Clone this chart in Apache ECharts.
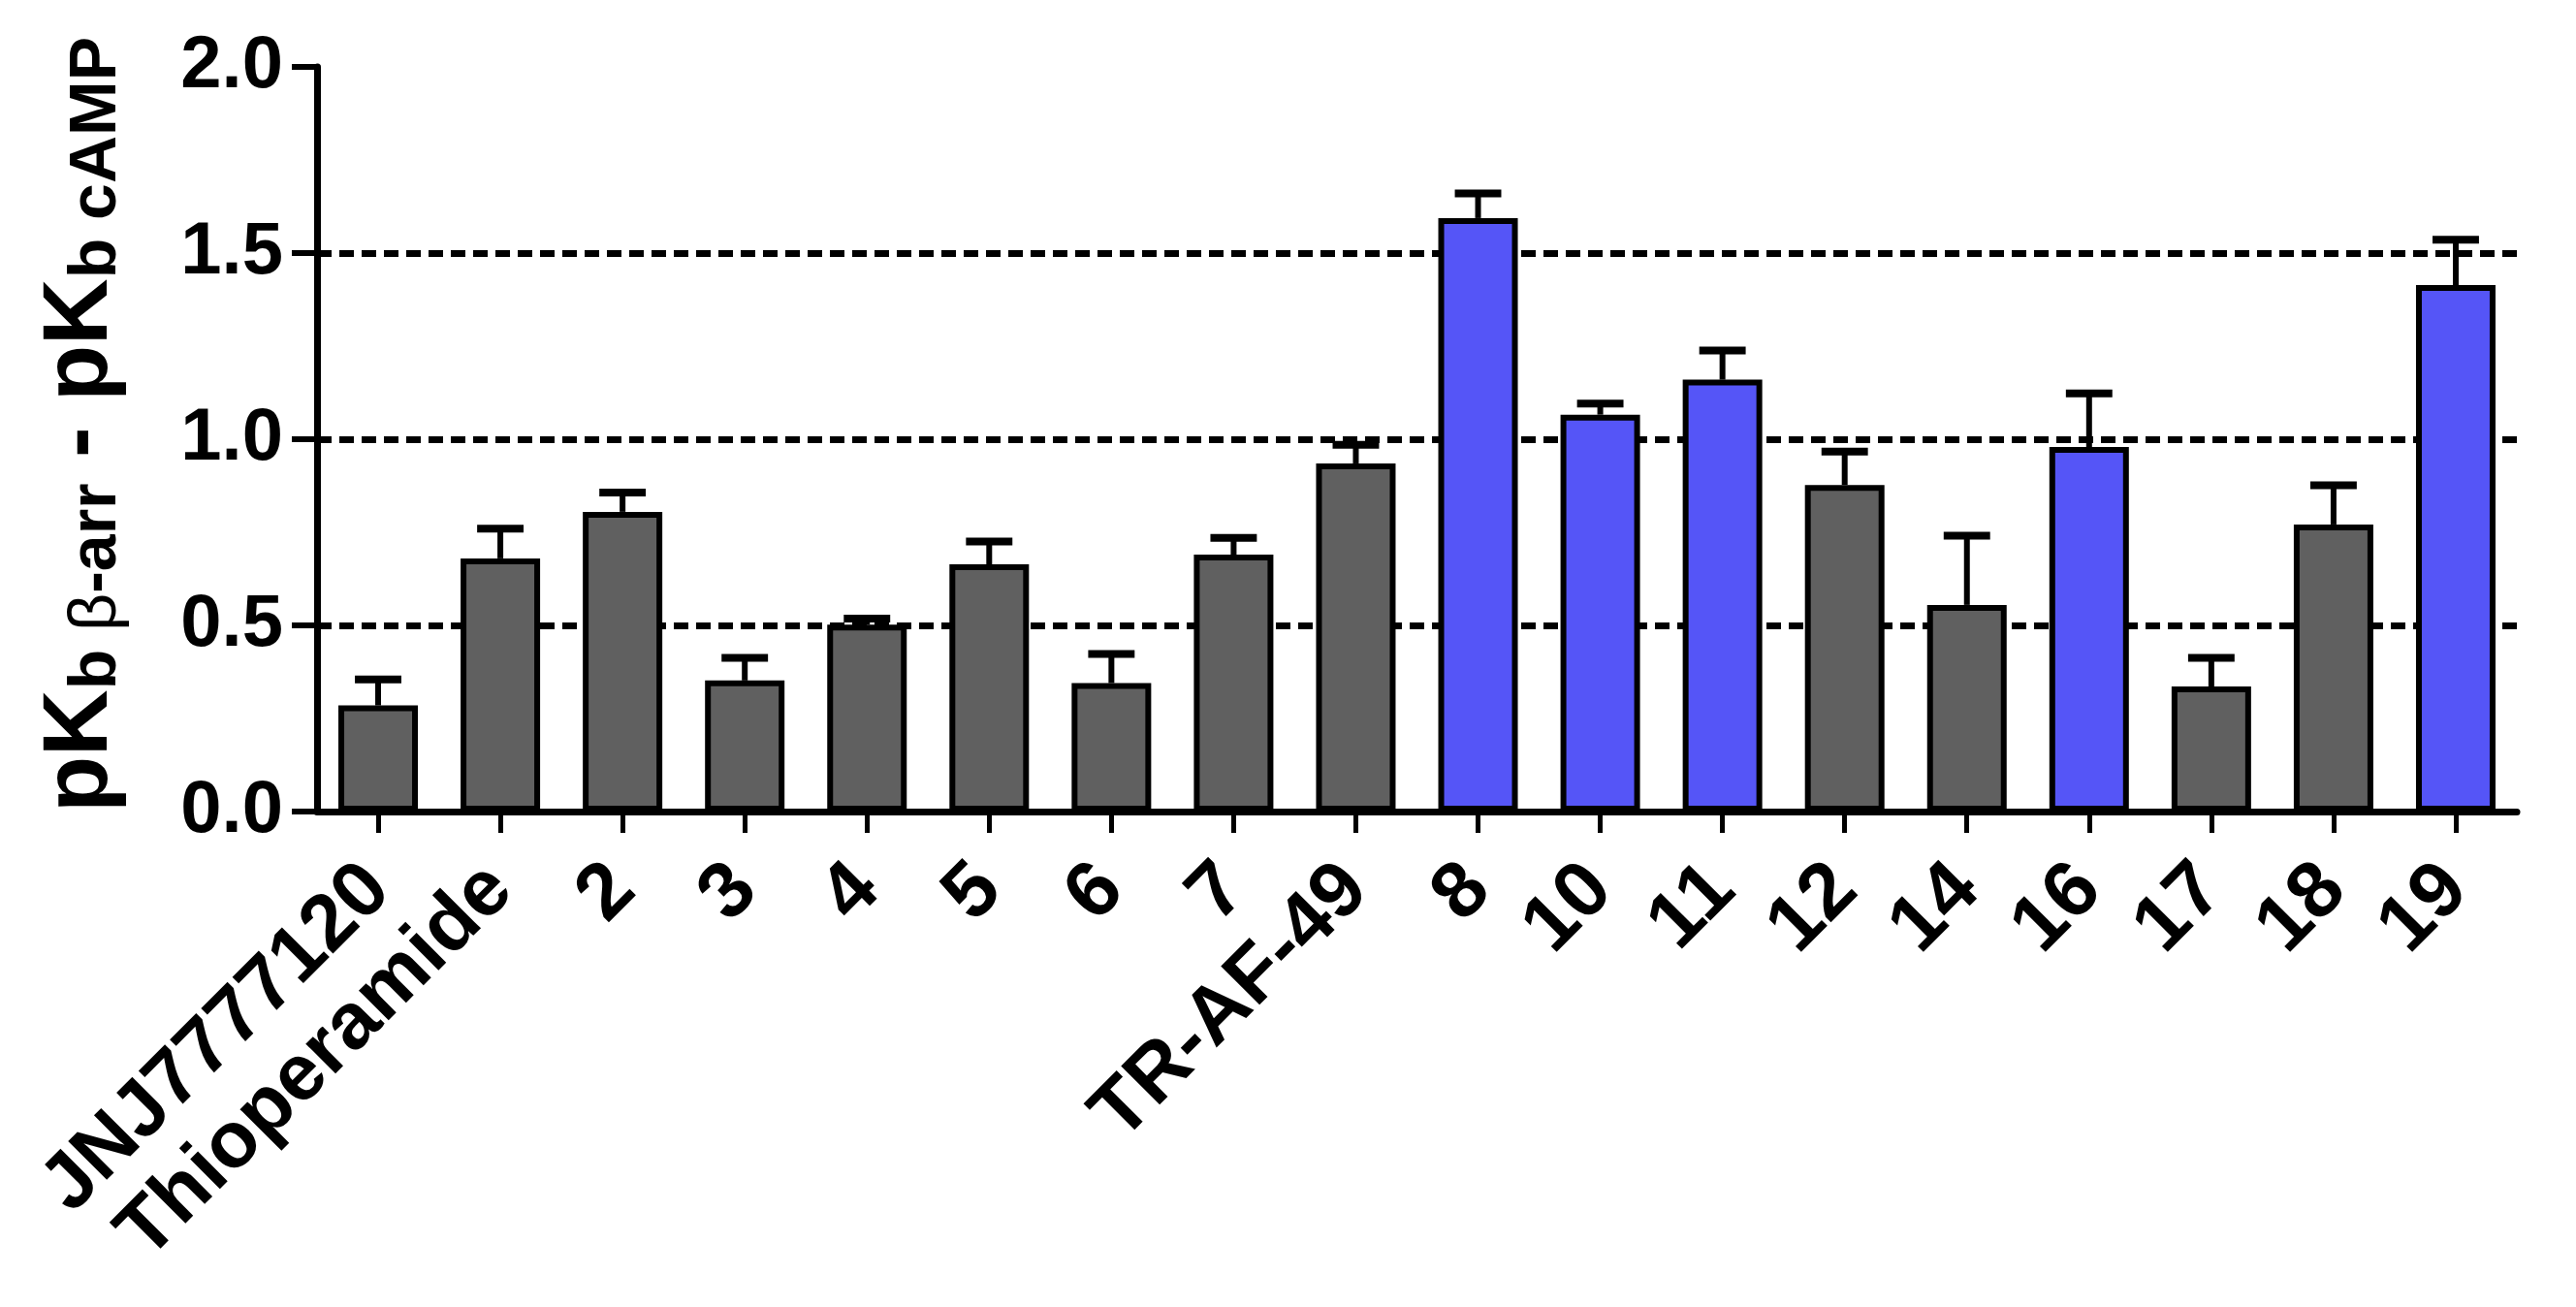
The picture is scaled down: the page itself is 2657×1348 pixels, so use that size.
<!DOCTYPE html>
<html>
<head>
<meta charset="utf-8">
<script src="https://cdn.jsdelivr.net/npm/echarts@6/dist/echarts.min.js"></script>
<style>
html,body{margin:0;padding:0;background:#ffffff;}
#c{width:2657px;height:1348px;}
</style>
</head>
<body>
<div id="c"></div>
<script>
// ---- data ----
const categories = ['JNJ7777120','Thioperamide','2','3','4','5','6','7','TR-AF-49','8','10','11','12','14','16','17','18','19'];
const values = [0.285,0.680,0.805,0.352,0.502,0.664,0.345,0.690,0.935,1.594,1.066,1.160,0.877,0.555,0.979,0.336,0.771,1.414];
const errors = [0.070,0.080,0.052,0.061,0.016,0.061,0.078,0.045,0.050,0.066,0.030,0.078,0.090,0.186,0.144,0.077,0.105,0.122];
const groups = ['ref','ref','ref','ref','ref','ref','ref','ref','ref','hi','hi','hi','ref','ref','hi','ref','ref','hi'];
const yTicks = [0, 0.5, 1.0, 1.5, 2.0];

const FONT = '"Liberation Sans", Arial, Helvetica, sans-serif';
const colorFor = g => g === 'hi' ? '#5555F7' : '#606060';

const chart = echarts.init(document.getElementById('c'), null, {renderer: 'canvas'});
chart.setOption({
  animation: false,
  backgroundColor: '#ffffff',
  grid: {left: 327, right: 61, top: 69, bottom: 511, containLabel: false},
  xAxis: {
    type: 'category',
    data: categories,
    boundaryGap: true,
    axisLine: {show: true, lineStyle: {color: '#000', width: 7}},
    axisTick: {show: true, alignWithLabel: true, length: 22, lineStyle: {color: '#000', width: 5}},
    axisLabel: {interval: 0, rotate: 45, margin: 68, fontSize: 82, fontWeight: 'bold', fontFamily: FONT, color: '#000'},
    splitLine: {show: false}
  },
  yAxis: {
    type: 'value',
    min: yTicks[0],
    max: yTicks[yTicks.length - 1],
    interval: yTicks[1] - yTicks[0],
    name: '{m|pK}{s|b }{g|β}{s|-arr}{m| - pK}{s|b cAMP}',
    nameLocation: 'middle',
    nameRotate: 90,
    nameGap: 193,
    nameTextStyle: {
      padding: [0, 0, 0, 30],
      rich: {
        m: {fontSize: 95, fontWeight: 'bold', fontFamily: FONT, color: '#000', lineHeight: 100, verticalAlign: 'middle'},
        s: {fontSize: 68, fontWeight: 'bold', fontFamily: FONT, color: '#000', lineHeight: 36, verticalAlign: 'bottom'},
        g: {fontSize: 68, fontWeight: 'normal', fontFamily: FONT, color: '#000', lineHeight: 36, verticalAlign: 'bottom'}
      }
    },
    axisLine: {show: true, lineStyle: {color: '#000', width: 7}},
    axisTick: {show: true, length: 26, lineStyle: {color: '#000', width: 6}},
    axisLabel: {margin: 35, fontSize: 76, fontWeight: 'bold', fontFamily: FONT, color: '#000',
      formatter: v => v.toFixed(1)},
    splitLine: {show: true, showMinLine: false, showMaxLine: false,
      lineStyle: {color: '#000', width: 7, type: [15, 8]}}
  },
  series: [
    {
      type: 'bar',
      data: values.map((v, i) => ({value: v, itemStyle: {color: colorFor(groups[i])}})),
      barWidth: 82,
      itemStyle: {borderColor: '#000', borderWidth: 6},
      z: 2
    },
    {
      type: 'custom',
      data: values.map((v, i) => [i, v, errors[i]]),
      encode: {x: 0, y: 1},
      z: 5,
      renderItem: (params, api) => {
        const i = api.value(0), v = api.value(1), e = api.value(2);
        const base = api.coord([i, v]);
        const top = api.coord([i, v + e]);
        const half = api.size([1, 0])[0] * 0.19;
        return {
          type: 'group',
          children: [
            {type: 'line', shape: {x1: base[0], y1: base[1], x2: top[0], y2: top[1]}, style: {stroke: '#000', lineWidth: 6}},
            {type: 'line', shape: {x1: top[0] - half, y1: top[1], x2: top[0] + half, y2: top[1]}, style: {stroke: '#000', lineWidth: 8}}
          ]
        };
      }
    }
  ]
});
</script>
</body>
</html>
